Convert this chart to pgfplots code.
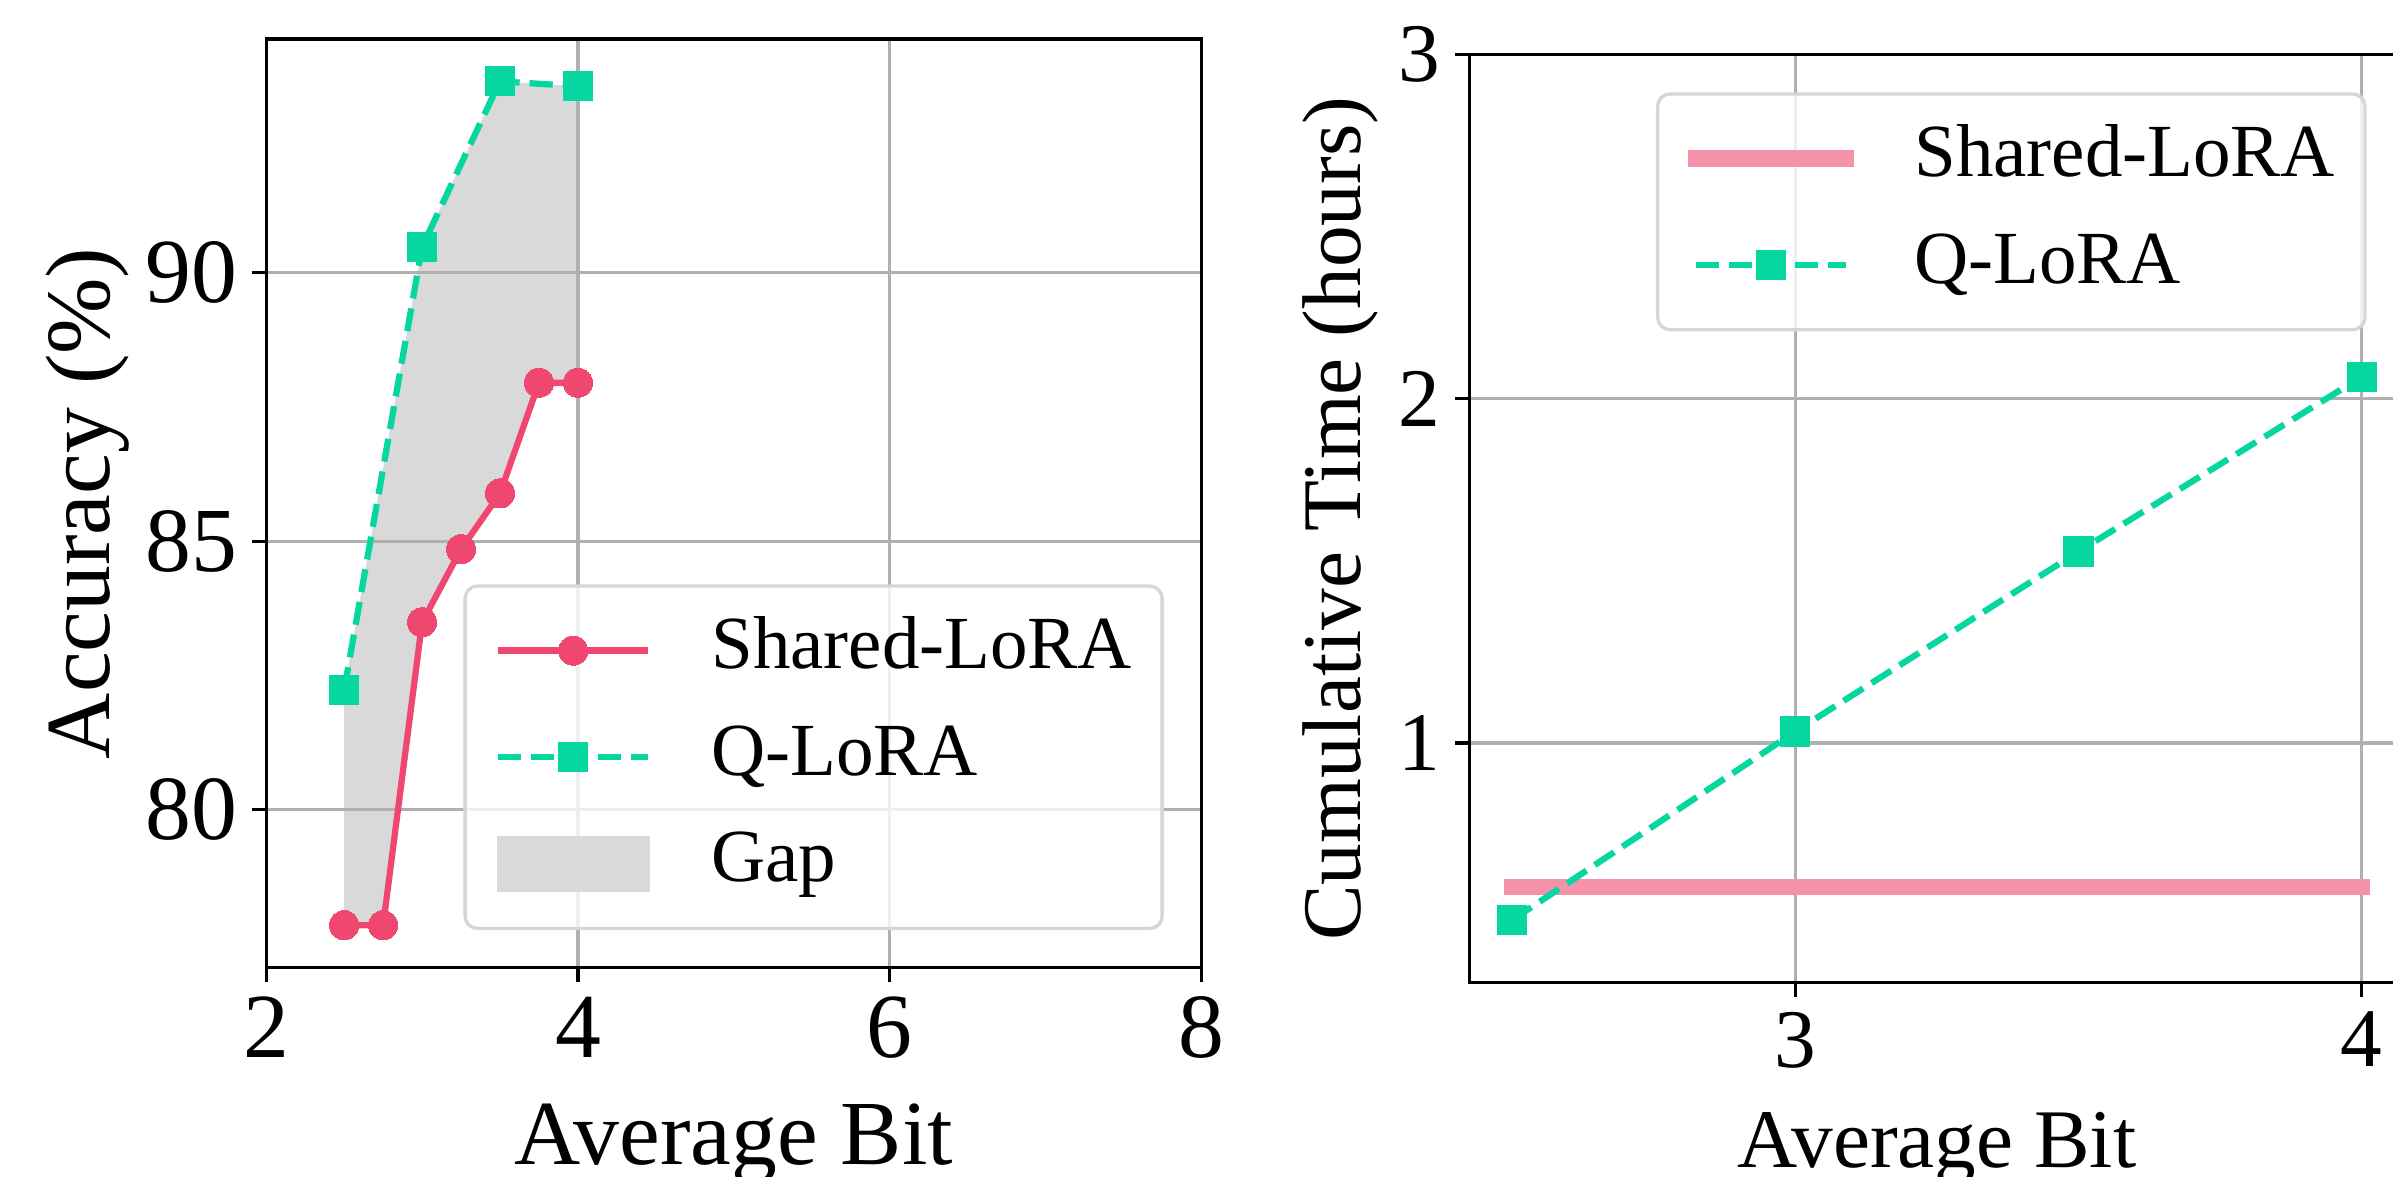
\documentclass[border=0pt]{standalone}
\usepackage{fontspec}
\setmainfont{Liberation Serif}
\usepackage{pgfplots}
\pgfplotsset{compat=1.18}
\definecolor{pinkc}{HTML}{EF476F}
\definecolor{greenc}{HTML}{06D6A0}
\definecolor{gapc}{HTML}{D9D9D9}
\definecolor{gridc}{HTML}{B0B0B0}
\definecolor{lpink}{HTML}{F591A9}
\definecolor{legedge}{HTML}{D6D6D6}
\pgfplotsset{
  mystyle/.style={
    scale only axis,
    set layers,
    axis line style={line width=0.8pt},
    tick align=outside,
    major tick length=3.5pt,
    every tick/.style={black, line width=0.8pt},
    xtick pos=left, ytick pos=left,
    grid=major,
    major grid style={gridc, line width=0.8pt},
    /pgf/number format/assume math mode=true,
    legend cell align=left,
    legend style={draw=legedge, line width=0.8pt, rounded corners=3pt,
      fill=white, fill opacity=0.8, text opacity=1,
      font=\fontsize{18}{21.6}\selectfont,
      inner xsep=7.2pt, inner ysep=7.2pt, row sep=9pt,
      nodes={inner sep=0pt, text height=12.6pt, text depth=4pt},
      /tikz/every odd column/.append style={column sep=14.4pt}},
    legend image code/.code={
      \draw[sharp corners, fill opacity=1, draw opacity=1, mark repeat=2,mark phase=2,##1] plot coordinates {(0pt,0pt) (18pt,0pt) (36pt,0pt)};
    },
  }
}
\begin{document}
\begin{tikzpicture}
\begin{axis}[mystyle,
  at={(63.9pt,50.0pt)}, anchor=south west,
  width=224.4pt, height=222.9pt,
  xmin=2, xmax=8, ymin=77.06, ymax=94.35,
  xtick={2,4,6,8}, ytick={80,85,90},
  ticklabel style={font=\fontsize{22}{26}\selectfont},
  label style={font=\fontsize{22}{26}\selectfont},
  xlabel={Average Bit}, ylabel={Accuracy (\%)},
  xlabel shift=4pt, ylabel shift=-3pt,
  legend style={at={(1,0)}, anchor=south east, xshift=-9pt, yshift=9pt},
]
\addplot[draw=none, fill=gapc, on layer=axis background, forget plot] coordinates {
  (2.5,82.23) (3,90.48) (3.5,93.56) (4,93.47)
  (4,87.95) (3.75,87.95) (3.5,85.89) (3.25,84.85) (3,83.49) (2.75,77.85) (2.5,77.85)} -- cycle;
\addplot[pinkc, line width=1.5pt, mark=*, mark size=3.5pt, mark options={fill=pinkc, draw=pinkc, line width=0pt}]
  coordinates {(2.5,77.85) (2.75,77.85) (3,83.49) (3.25,84.85) (3.5,85.89) (3.75,87.95) (4,87.95)};
\addlegendentry{Shared-LoRA}
\addplot[greenc, line width=1.5pt, dash pattern=on 5.55pt off 2.4pt, mark=square*, mark size=3.5pt, mark options={solid, fill=greenc, draw=greenc, line width=0pt}]
  coordinates {(2.5,82.23) (3,90.48) (3.5,93.56) (4,93.47)};
\addlegendentry{Q-LoRA}
\addlegendimage{legend image code/.code={\fill[gapc, sharp corners, fill opacity=1] (0pt,-6.3pt) rectangle (36pt,6.3pt);}}
\addlegendentry{Gap}
\end{axis}
\begin{axis}[mystyle,
  at={(352.7pt,46.4pt)}, anchor=south west,
  width=224.3pt, height=222.7pt,
  xmin=2.425, xmax=4.075, ymin=0.303, ymax=3,
  xtick={3,4}, ytick={1,2,3},
  ticklabel style={font=\fontsize{20}{24}\selectfont},
  label style={font=\fontsize{20}{24}\selectfont},
  xlabel={Average Bit}, ylabel={Cumulative Time (hours)},
  xlabel shift=3.8pt, ylabel shift=-2pt,
  legend style={at={(1,1)}, anchor=north east, xshift=-9pt, yshift=-9pt},
]
\addplot[lpink, line width=4pt, line cap=rect] coordinates {(2.5,0.581) (4,0.581)};
\addlegendentry{Shared-LoRA}
\addplot[greenc, line width=1.5pt, dash pattern=on 5.55pt off 2.4pt, mark=square*, mark size=3.5pt, mark options={solid, fill=greenc, draw=greenc, line width=0pt}]
  coordinates {(2.5,0.485) (3,1.033) (3.5,1.556) (4,2.064)};
\addlegendentry{Q-LoRA}
\end{axis}
\pgfresetboundingbox
\useasboundingbox (0pt,0pt) rectangle (574.32pt,282.24pt);
\end{tikzpicture}
\end{document}
